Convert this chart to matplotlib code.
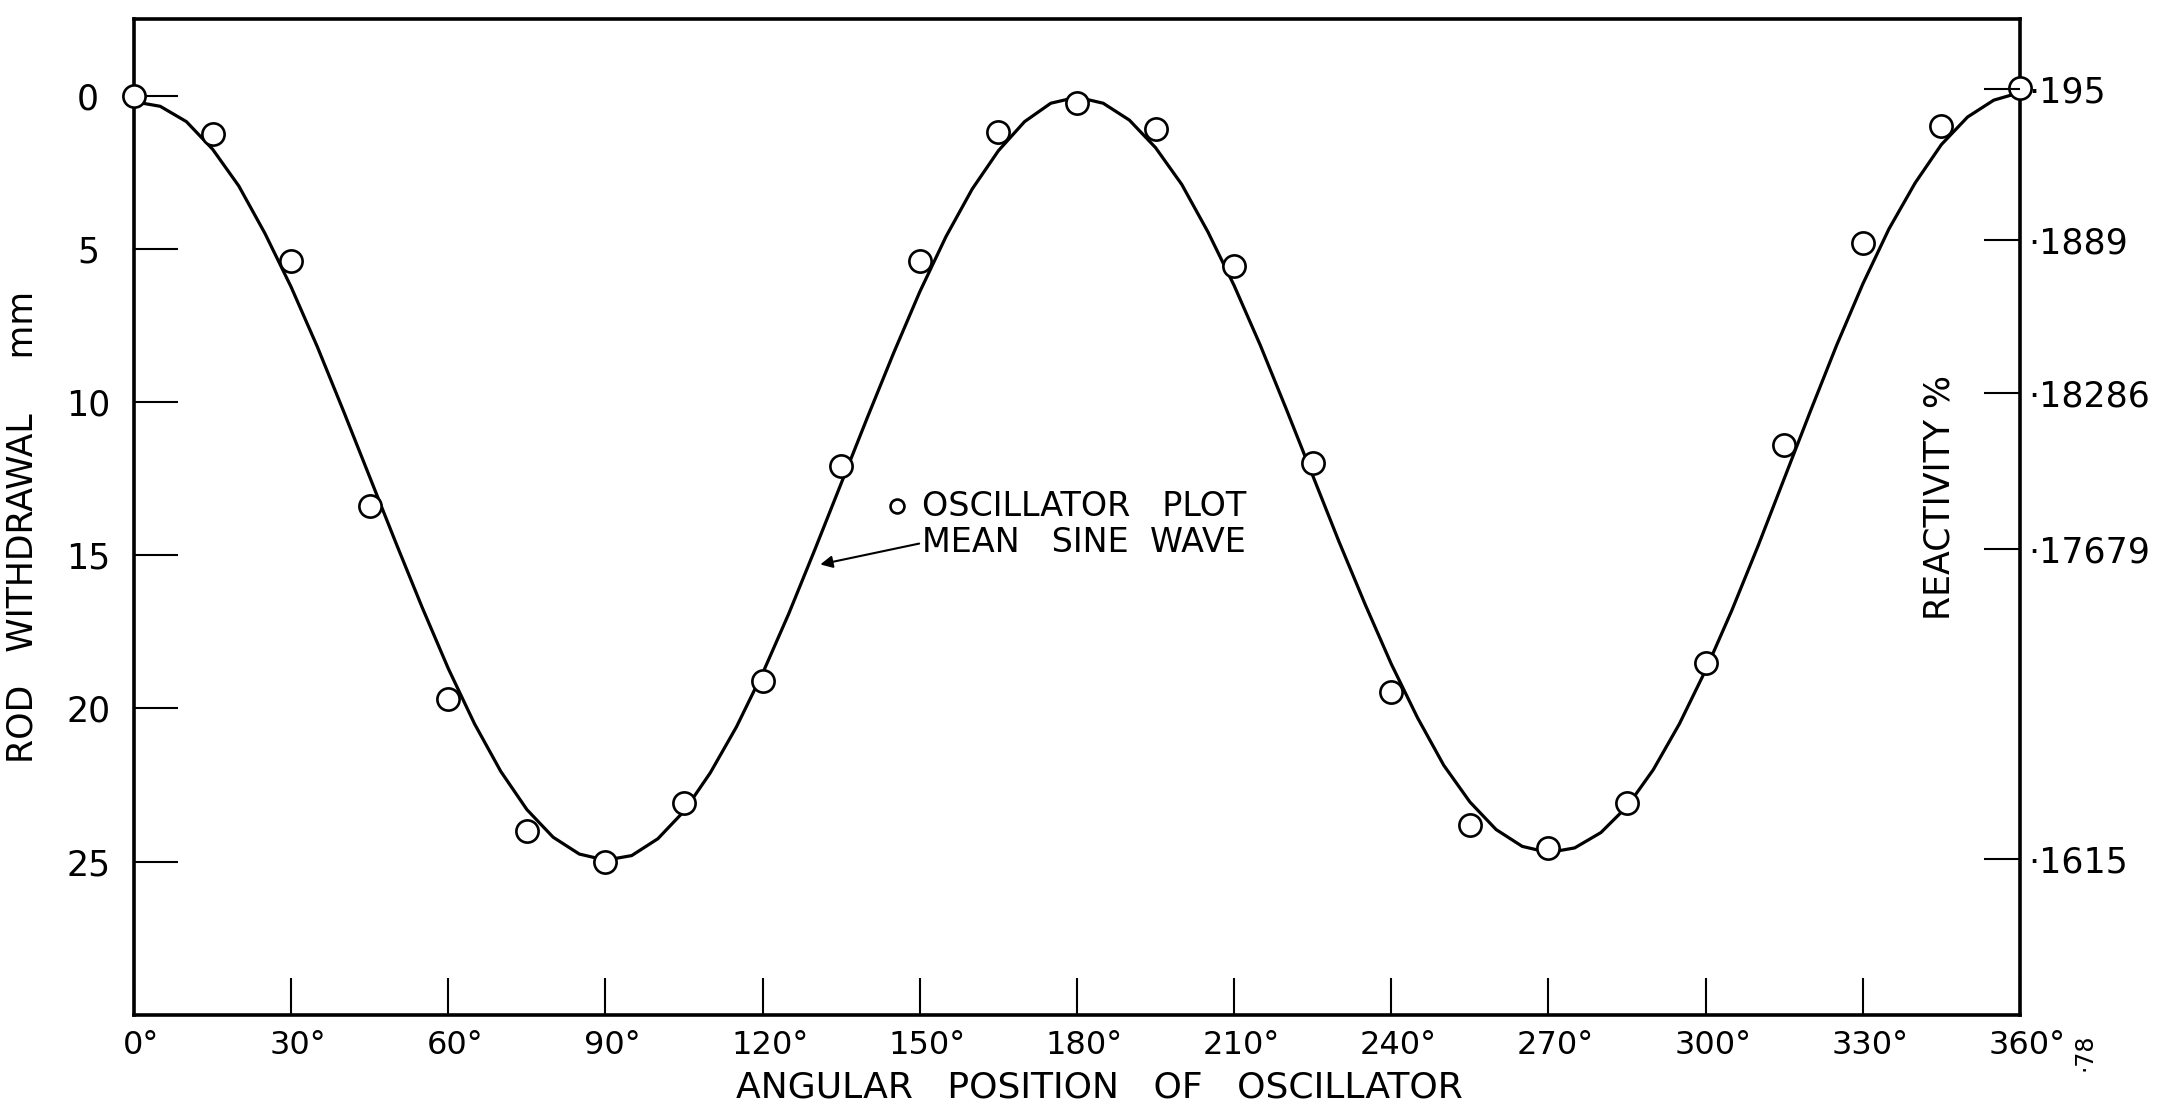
import matplotlib
matplotlib.use('Agg')
import matplotlib.pyplot as plt
import matplotlib.transforms as mtransforms

# oscillator readings (deg, mm of rod withdrawal)
angle_deg = [0, 15, 30, 45, 60, 75, 90, 105, 120, 135, 150, 165, 180,
             195, 210, 225, 240, 255, 270, 285, 300, 315, 330, 345, 360]
withdrawal_mm = [0.0, 1.25, 5.4, 13.4, 19.7, 24.0, 25.0, 23.1, 19.1, 12.1,
                 5.4, 1.2, 0.25, 1.1, 5.55, 12.0, 19.45, 23.8, 24.55, 23.1,
                 18.5, 11.4, 4.8, 1.0, -0.25]

# mean sine wave, every 5 deg
curve_deg = list(range(0, 365, 5))
curve_mm = [0.2, 0.35, 0.85, 1.75, 2.95, 4.5, 6.25, 8.2, 10.3, 12.45,
            14.6, 16.7, 18.7, 20.5, 22.05, 23.3, 24.2, 24.75, 24.95, 24.8,
            24.25, 23.35, 22.1, 20.6, 18.85, 16.9, 14.8, 12.65, 10.5, 8.4,
            6.4, 4.6, 3.05, 1.8, 0.85, 0.25, 0.05, 0.25, 0.8, 1.7,
            2.9, 4.45, 6.2, 8.15, 10.25, 12.4, 14.55, 16.6, 18.55, 20.3,
            21.85, 23.05, 23.95, 24.5, 24.7, 24.55, 24.05, 23.2, 22.0, 20.5,
            18.75, 16.8, 14.7, 12.5, 10.3, 8.15, 6.15, 4.35, 2.85, 1.6,
            0.7, 0.15, -0.1]

x_ticks = [0, 30, 60, 90, 120, 150, 180, 210, 240, 270, 300, 330, 360]
x_labels = ['0°', '30°', '60°', '90°', '120°', '150°', '180°', '210°',
            '240°', '270°', '300°', '330°', '360°']
y_ticks = [0, 5, 10, 15, 20, 25]
y_labels = ['0', '5', '10', '15', '20', '25']

# reactivity scale on the right (positions in mm on the left scale)
react_pos = [-0.2, 4.7, 9.7, 14.8, 24.9]
react_labels = ['·195', '·1889', '·18286', '·17679', '·1615']

plt.rcParams['font.family'] = ['DejaVu Sans']

fig = plt.figure(figsize=(21.65, 11.02), dpi=100)
ax = fig.add_axes([0.0619, 0.0790, 0.8711, 0.9038])

ax.plot(curve_deg, curve_mm, color='black', lw=2.3, zorder=2)
ax.plot(angle_deg, withdrawal_mm, 'o', ms=16, mfc='white', mec='black',
        mew=1.9, clip_on=False, zorder=3)

ax.set_xlim(0, 360)
ax.set_ylim(30, -2.5)

for side in ['left', 'right', 'top', 'bottom']:
    ax.spines[side].set_linewidth(2.6)

ax.set_xticks(x_ticks)
ax.set_xticklabels(x_labels, fontsize=23)
ax.set_yticks(y_ticks)
ax.set_yticklabels(y_labels, fontsize=25, ha='center')
ax.tick_params(axis='x', direction='in', length=27, width=1.5, pad=11)
ax.tick_params(axis='y', direction='in', length=32, width=1.5, pad=33)

# nudge the degree labels so the digits sit under the ticks
shift = mtransforms.ScaledTranslation(7 / 100, 0, fig.dpi_scale_trans)
for lbl in ax.get_xticklabels():
    lbl.set_transform(lbl.get_transform() + shift)

ax2 = ax.twinx()
ax2.set_ylim(ax.get_ylim())
ax2.set_yticks(react_pos)
ax2.set_yticklabels(react_labels, fontsize=25)
ax2.tick_params(axis='y', direction='in', length=26, width=1.5, pad=6)
for side in ['left', 'right', 'top', 'bottom']:
    ax2.spines[side].set_visible(False)

ax.set_xlabel('ANGULAR   POSITION   OF   OSCILLATOR', fontsize=26)
ax.xaxis.set_label_coords(0.512, -0.056)
ax.set_ylabel('ROD   WITHDRAWAL     mm', fontsize=25)
ax.yaxis.set_label_coords(-0.05, 0.49)

ax.text(0.9576, 0.52, 'REACTIVITY %', transform=ax.transAxes, rotation=90,
        ha='center', va='center', fontsize=25)

# key / annotation
ax.plot([145.6], [13.4], 'o', ms=10, mfc='white', mec='black', mew=1.9)
ax.text(150.4, 13.4, 'OSCILLATOR   PLOT', fontsize=24, ha='left',
        va='center')
ax.annotate('MEAN   SINE  WAVE', xy=(131, 15.3), xytext=(150.4, 14.6),
            fontsize=24, ha='left', va='center',
            arrowprops=dict(arrowstyle='-|>', color='black', lw=1.5,
                            mutation_scale=18, shrinkA=0, shrinkB=0,
                            relpos=(0, 0.5)))

fig.text(0.963, 0.045, "·78", rotation=90, fontsize=17, ha='center',
         va='center')

fig.savefig('out.png', dpi=100)
